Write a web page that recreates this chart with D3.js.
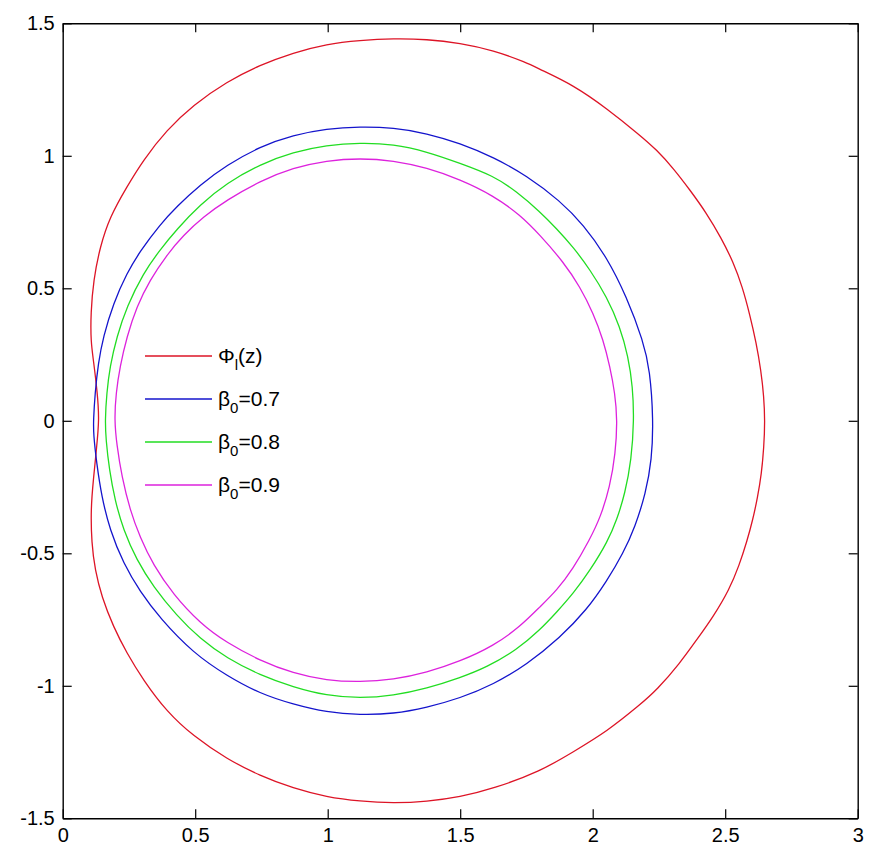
<!DOCTYPE html>
<html>
<head>
<meta charset="utf-8">
<script src="https://cdn.jsdelivr.net/npm/d3@7/dist/d3.min.js"></script>
<style>
  html, body { margin: 0; padding: 0; background: #fff; }
  svg { display: block; }
  text { font-family: "Liberation Sans", Arial, sans-serif; }
</style>
</head>
<body>
<svg id="chart" width="895" height="866"></svg>
<script>
// ---- data ----
const xTicks = [0, 0.5, 1, 1.5, 2, 2.5, 3];
const yTicks = [-1.5, -1, -0.5, 0, 0.5, 1, 1.5];
const xTickLabels = ["0", "0.5", "1", "1.5", "2", "2.5", "3"];
const yTickLabels = ["-1.5", "-1", "-0.5", "0", "0.5", "1", "1.5"];

const phiCurve = [[0.138,0.003],[0.131,0.104],[0.116,0.229],[0.106,0.300],[0.106,0.406],[0.116,0.531],[0.141,0.657],[0.178,0.770],[0.242,0.883],[0.304,0.984],[0.392,1.097],[0.493,1.192],[0.619,1.280],[0.745,1.343],[0.870,1.389],[0.996,1.422],[1.122,1.436],[1.248,1.443],[1.374,1.440],[1.499,1.425],[1.625,1.398],[1.751,1.352],[1.801,1.326],[1.927,1.267],[2.053,1.179],[2.178,1.078],[2.242,1.022],[2.304,0.953],[2.367,0.871],[2.430,0.783],[2.485,0.690],[2.530,0.600],[2.565,0.505],[2.593,0.400],[2.617,0.295],[2.635,0.190],[2.646,0.090],[2.650,0.000],[2.646,-0.100],[2.637,-0.200],[2.622,-0.290],[2.604,-0.374],[2.582,-0.455],[2.553,-0.545],[2.515,-0.638],[2.455,-0.739],[2.392,-0.827],[2.329,-0.915],[2.242,-1.016],[2.178,-1.072],[2.053,-1.173],[1.927,-1.249],[1.801,-1.324],[1.625,-1.388],[1.499,-1.420],[1.374,-1.437],[1.248,-1.443],[1.122,-1.436],[0.996,-1.420],[0.870,-1.387],[0.745,-1.340],[0.619,-1.276],[0.493,-1.190],[0.392,-1.097],[0.304,-0.978],[0.242,-0.877],[0.191,-0.777],[0.147,-0.664],[0.122,-0.563],[0.109,-0.462],[0.106,-0.330],[0.116,-0.220],[0.128,-0.100]];

const beta07 = [[0.116,0.003],[0.122,0.104],[0.134,0.217],[0.153,0.317],[0.191,0.443],[0.242,0.557],[0.292,0.640],[0.367,0.740],[0.430,0.808],[0.518,0.890],[0.619,0.965],[0.745,1.035],[0.870,1.078],[0.996,1.102],[1.122,1.110],[1.248,1.106],[1.374,1.085],[1.499,1.047],[1.625,0.995],[1.751,0.925],[1.877,0.830],[1.965,0.740],[2.053,0.618],[2.128,0.468],[2.191,0.300],[2.216,0.192],[2.229,0.003],[2.223,-0.148],[2.200,-0.274],[2.160,-0.400],[2.115,-0.500],[2.053,-0.605],[1.977,-0.714],[1.877,-0.818],[1.751,-0.920],[1.625,-0.995],[1.499,-1.047],[1.374,-1.082],[1.248,-1.106],[1.122,-1.110],[0.996,-1.100],[0.870,-1.070],[0.745,-1.030],[0.619,-0.962],[0.493,-0.877],[0.367,-0.745],[0.292,-0.645],[0.229,-0.538],[0.178,-0.412],[0.147,-0.286],[0.128,-0.160],[0.116,-0.050]];

const beta08 = [[0.160,0.003],[0.166,0.104],[0.178,0.204],[0.204,0.317],[0.242,0.431],[0.304,0.557],[0.367,0.645],[0.430,0.722],[0.518,0.815],[0.619,0.897],[0.745,0.968],[0.870,1.014],[0.996,1.040],[1.122,1.049],[1.248,1.044],[1.374,1.016],[1.499,0.972],[1.625,0.925],[1.713,0.865],[1.801,0.789],[1.864,0.725],[1.927,0.655],[1.990,0.570],[2.053,0.468],[2.103,0.355],[2.134,0.242],[2.151,0.129],[2.156,0.003],[2.146,-0.148],[2.122,-0.274],[2.091,-0.374],[2.057,-0.455],[1.990,-0.565],[1.927,-0.651],[1.864,-0.722],[1.801,-0.789],[1.713,-0.865],[1.600,-0.930],[1.499,-0.970],[1.374,-1.010],[1.248,-1.037],[1.122,-1.047],[0.996,-1.037],[0.870,-1.005],[0.745,-0.960],[0.619,-0.896],[0.518,-0.822],[0.430,-0.735],[0.342,-0.626],[0.279,-0.525],[0.229,-0.412],[0.197,-0.299],[0.176,-0.186],[0.163,-0.070]];

const beta09 = [[0.195,0.003],[0.201,0.104],[0.216,0.204],[0.242,0.317],[0.279,0.431],[0.329,0.531],[0.392,0.625],[0.455,0.700],[0.531,0.770],[0.619,0.833],[0.745,0.905],[0.870,0.955],[0.996,0.982],[1.122,0.991],[1.248,0.982],[1.374,0.955],[1.499,0.911],[1.625,0.850],[1.726,0.777],[1.801,0.701],[1.889,0.600],[1.952,0.506],[2.002,0.406],[2.040,0.305],[2.065,0.204],[2.084,0.104],[2.093,0.003],[2.086,-0.123],[2.065,-0.249],[2.030,-0.362],[1.988,-0.450],[1.925,-0.560],[1.864,-0.640],[1.801,-0.702],[1.726,-0.777],[1.625,-0.850],[1.499,-0.908],[1.374,-0.950],[1.248,-0.977],[1.122,-0.986],[0.996,-0.980],[0.870,-0.953],[0.745,-0.905],[0.619,-0.838],[0.518,-0.764],[0.417,-0.655],[0.342,-0.545],[0.292,-0.440],[0.254,-0.337],[0.223,-0.211],[0.204,-0.090]];

const seriesNames = [["Φ", "l", "(z)"], ["β", "0", "=0.7"], ["β", "0", "=0.8"], ["β", "0", "=0.9"]];
const seriesColors = ["#dd1426", "#1414cc", "#22dd22", "#dd22dd"];
const seriesData = [phiCurve, beta07, beta08, beta09];

// ---- layout ----
const svg = d3.select("#chart");
const pLeft = 62.7, pRight = 857.7, pTop = 23.3, pBottom = 818.3;
const x = d3.scaleLinear().domain([0, 3]).range([pLeft, pRight]);
const y = d3.scaleLinear().domain([-1.5, 1.5]).range([pBottom, pTop]);

svg.append("rect").attr("width", 895).attr("height", 866).attr("fill", "#fff");

// curves
const line = d3.line().x(d => x(d[0])).y(d => y(d[1])).curve(d3.curveBasisClosed);
const g = svg.append("g");
seriesData.forEach((pts, i) => {
  g.append("path").attr("d", line(pts)).attr("fill", "none")
    .attr("stroke", seriesColors[i]).attr("stroke-width", 1.3);
});

// axes box with inward ticks
const tickLen = 9;
const axB = d3.axisBottom(x).tickValues(xTicks).tickFormat((d, i) => xTickLabels[i]).tickSizeInner(-tickLen).tickSizeOuter(0).tickPadding(10);
const axT = d3.axisTop(x).tickValues(xTicks).tickFormat("").tickSizeInner(-tickLen).tickSizeOuter(0);
const axL = d3.axisLeft(y).tickValues(yTicks).tickFormat((d, i) => yTickLabels[i]).tickSizeInner(-tickLen).tickSizeOuter(0).tickPadding(8);
const axR = d3.axisRight(y).tickValues(yTicks).tickFormat("").tickSizeInner(-tickLen).tickSizeOuter(0);

function styleAxis(sel) {
  sel.select(".domain").attr("stroke", "#000").attr("stroke-width", 1.4);
  sel.selectAll(".tick line").attr("stroke", "#000").attr("stroke-width", 1.2);
  sel.selectAll(".tick text").attr("fill", "#000").style("font-size", "20px")
    .style("font-family", "'Liberation Sans', Arial, sans-serif");
}
svg.append("g").attr("transform", `translate(0,${pBottom})`).call(axB).call(styleAxis);
svg.append("g").attr("transform", `translate(0,${pTop})`).call(axT).call(styleAxis);
svg.append("g").attr("transform", `translate(${pLeft},0)`).call(axL).call(styleAxis);
svg.append("g").attr("transform", `translate(${pRight},0)`).call(axR).call(styleAxis);

// legend
const legX0 = 145, legX1 = 212, legTextX = 218, legY0 = 356, legDy = 43;
seriesNames.forEach((nm, i) => {
  const ly = legY0 + i * legDy;
  svg.append("line").attr("x1", legX0).attr("x2", legX1).attr("y1", ly).attr("y2", ly)
    .attr("stroke", seriesColors[i]).attr("stroke-width", 1.3);
  const t = svg.append("text").attr("x", legTextX).attr("y", ly + 7)
    .attr("fill", "#000").style("font-size", "21px");
  t.append("tspan").text(nm[0]);
  t.append("tspan").attr("dy", 7).style("font-size", "15px").text(nm[1]);
  t.append("tspan").attr("dy", -7).text(nm[2]);
});
</script>
</body>
</html>
